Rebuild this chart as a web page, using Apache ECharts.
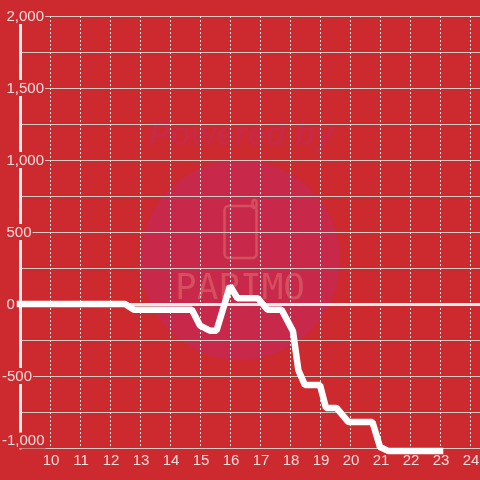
<!DOCTYPE html>
<html>
<head>
<meta charset="utf-8">
<style>
  html, body { margin: 0; padding: 0; background: #cc2a2e; }
  #chart { width: 480px; height: 480px; }
</style>
<script src="https://cdn.jsdelivr.net/npm/echarts@6/dist/echarts.min.js"></script>
</head>
<body>
<div id="chart"></div>
<script>
const xValues = [9, 12.5, 12.8, 14.73, 15, 15.33, 15.55, 16, 16.25, 16.93, 17.25, 17.72, 17.95, 18.1, 18.28, 18.5, 19, 19.2, 19.55, 19.95, 20.75, 21, 21.27, 23]
const yValues = [0, 0, -40, -40, -150, -185, -185, 125, 40, 40, -40, -40, -130, -190, -460, -563, -563, -722, -722, -820, -820, -993, -1020, -1020]
const xTicks = [9, 25]
const yTicks = [-1000, 2000]

const labelColor = '#f6dede'
const bgColor = '#cc2a2e'

const chart = echarts.init(document.getElementById('chart'))

const yLabel = (value) => {
  if (value % 500 !== 0) return ''
  const text = value.toLocaleString('en-US')
  return value < 0 ? `{n|${text}}` : `{p|${text}}`
}

const option = {
  animation: false,
  backgroundColor: bgColor,
  grid: { left: 20, top: 16, width: 480, height: 432, outerBoundsMode: 'none' },
  graphic: [
    {
      type: 'circle',
      z: -1,
      shape: { cx: 240, cy: 260, r: 100 },
      style: { fill: '#c82849' }
    },
    {
      type: 'text',
      z: -1,
      x: 241,
      y: 136,
      style: {
        text: 'Powered by',
        align: 'center',
        verticalAlign: 'middle',
        font: 'italic bold 33px "Liberation Sans"',
        fill: '#c82945'
      }
    },
    {
      type: 'rect',
      z: -1,
      shape: { x: 224.5, y: 206, width: 32, height: 52, r: 4 },
      style: { fill: 'none', stroke: '#d44f5f', lineWidth: 2.5 }
    },
    {
      type: 'rect',
      z: -1,
      shape: { x: 252.5, y: 200, width: 4, height: 8, r: 2 },
      style: { fill: 'none', stroke: '#d44f5f', lineWidth: 2.5 }
    },
    {
      type: 'text',
      z: -1,
      x: 240,
      y: 290,
      style: {
        text: 'PAPIMO',
        align: 'center',
        verticalAlign: 'middle',
        font: '36px "DejaVu Sans Mono"',
        fill: '#d44f5f'
      }
    }
  ],
  xAxis: [
    {
      type: 'value',
      min: xTicks[0],
      max: xTicks[1],
      interval: 1,
      position: 'bottom',
      axisLine: { show: false, onZero: false },
      axisTick: { show: false },
      axisLabel: {
        showMinLabel: false,
        color: labelColor,
        fontFamily: 'Liberation Sans',
        fontSize: 15,
        margin: 5,
        padding: [0, 0, 0, 2]
      },
      splitLine: {
        lineStyle: { color: '#f0e8e0', width: 1, type: [2, 2] }
      }
    },
    {
      type: 'value',
      min: xTicks[0],
      max: xTicks[1],
      interval: 1,
      position: 'bottom',
      axisLine: {
        show: true,
        onZero: true,
        lineStyle: { color: '#f2eeee', width: 3 }
      },
      axisTick: { show: false },
      axisLabel: { show: false },
      splitLine: { show: false }
    }
  ],
  yAxis: {
    type: 'value',
    min: yTicks[0],
    max: yTicks[1],
    interval: 250,
    axisLine: {
      show: true,
      onZero: false,
      lineStyle: { color: '#f2eeee', width: 3 }
    },
    axisTick: { show: false },
    axisLabel: {
      align: 'left',
      margin: 18,
      verticalAlignMinLabel: 'bottom',
      formatter: yLabel,
      rich: {
        p: {
          color: labelColor,
          fontFamily: 'Liberation Sans',
          fontSize: 15,
          lineHeight: 15,
          backgroundColor: bgColor,
          padding: [1, 1, 0, 4.5]
        },
        n: {
          color: labelColor,
          fontFamily: 'Liberation Sans',
          fontSize: 15,
          lineHeight: 15,
          backgroundColor: bgColor,
          padding: [1, 1, 0, 0]
        }
      }
    },
    splitLine: {
      lineStyle: { color: '#cfc9c4', width: 1 }
    }
  },
  series: [
    {
      type: 'line',
      xAxisIndex: 0,
      data: xValues.map((x, i) => [x, yValues[i]]),
      symbol: 'none',
      clip: false,
      z: 5,
      lineStyle: { color: '#ffffff', width: 6.5, cap: 'square', join: 'bevel' }
    }
  ]
}

chart.setOption(option)
</script>
</body>
</html>
